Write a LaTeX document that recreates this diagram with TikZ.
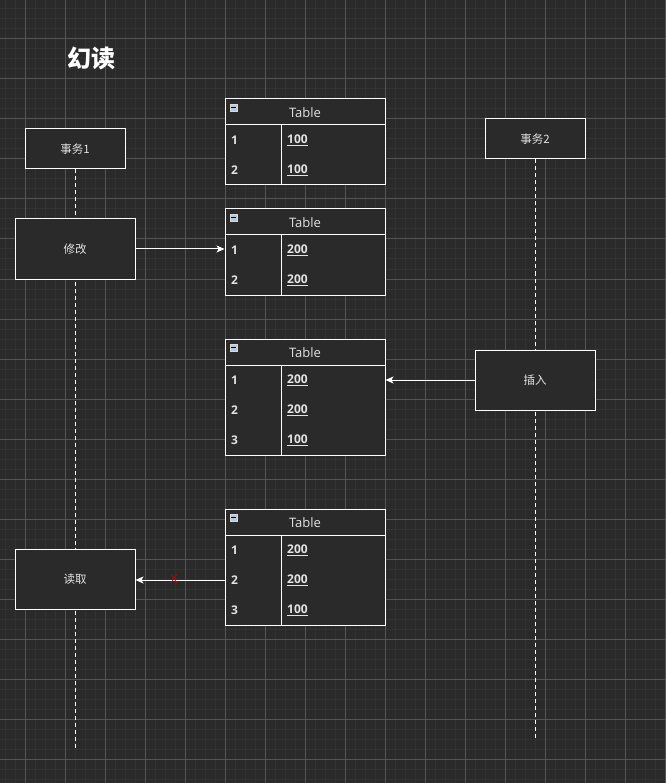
\documentclass[tikz,border=0pt]{standalone}
\usepackage{fontspec}
\setmainfont{Open Sans}
\newfontfamily\cjk{Noto Sans CJK SC}
\usetikzlibrary{arrows.meta}
\definecolor{bg}{HTML}{2A2A2A}
\definecolor{minorc}{HTML}{323232}
\definecolor{majorc}{HTML}{545454}
\definecolor{txt}{HTML}{E2E2E2}
\definecolor{iconc}{HTML}{B8C8D8}
\definecolor{xred}{HTML}{C80000}
\tikzset{
  box/.style={draw=white, fill=bg, line width=1pt, text=txt, inner sep=0pt,
    font=\cjk\fontsize{11.5}{13}\selectfont},
  tframe/.style={draw=white, fill=bg, line width=1pt, minimum width=160pt, inner sep=0pt},
  tsep/.style={draw=white, line width=1pt},
  thead/.style={text=txt, inner sep=0pt, font=\fontsize{13}{15}\selectfont},
  tkey/.style={text=txt, inner sep=0pt, anchor=west, font=\bfseries\fontsize{12}{14}\selectfont},
  tval/.style={text=txt, inner sep=0pt, anchor=west, font=\bfseries\fontsize{12}{14}\selectfont},
  ticon/.style={draw=white!70!gray, fill=iconc, minimum size=7pt, inner sep=0pt},
  life/.style={draw=white, line width=1pt, dash pattern=on 4pt off 3pt},
  arr/.style={draw=white, line width=1pt, -{Stealth[length=8pt,width=7pt,inset=2pt]}},
}
\newcommand\mytable[3]{%
  \pgfmathsetmacro\nrows{0}%
  \foreach \v [count=\i] in {#3} {\xdef\nrows{\i}}%
  \pgfmathsetmacro\th{26+30*\nrows}%
  \node[tframe, minimum height=\th pt] (#1) at (305,{#2+\th/2}) {};
  \draw[tsep] (225,#2+26) -- (385,#2+26);
  \draw[tsep] (281,#2+26) -- (281,{#2+\th});
  \node[thead] (#1h) at (305,#2+13.5) {Table};
  \node[ticon] (#1i) at (233.5,#2+8.5) {};
  \draw[black, line width=1.2pt] (231,#2+8.5) -- (236,#2+8.5);
  \foreach \v [count=\i] in {#3} {
    \node[tkey] (#1k\i) at (231,{#2+26+30*(\i-0.5)}) {\i};
    \node[tval] (#1v\i) at (287,{#2+26+30*(\i-0.5)}) {\underline{\v}};
  }
}
\begin{document}
\begin{tikzpicture}[x=1pt,y=-1pt]
\fill[bg] (0,0) rectangle (666,783);
\useasboundingbox (0,0) rectangle (666,783);
\foreach \x in {5,15,...,665} \draw[minorc, line width=1pt] (\x,0) -- (\x,783);
\foreach \y in {9,19,...,783} \draw[minorc, line width=1pt] (0,\y) -- (666,\y);
\foreach \x in {25,65,...,665} \draw[majorc, line width=1pt] (\x,0) -- (\x,783);
\foreach \y in {39,79,...,783} \draw[majorc, line width=1pt] (0,\y) -- (666,\y);

\node[text=white, inner sep=0pt, font=\cjk\bfseries\fontsize{24}{28}\selectfont] (title) at (91,58) {幻读};

\coordinate (end1) at (75,748);
\coordinate (end2) at (535,738);
\node[box, minimum width=100pt, minimum height=40pt] (p1) at (75,149) {事务1};
\node[box, minimum width=100pt, minimum height=40pt] (p2) at (535,139) {事务2};
\draw[life] (p1.south) -- (end1);
\draw[life] (p2.south) -- (end2);

\node[box, minimum width=120pt, minimum height=60pt] (mod) at (75,249) {修改};
\node[box, minimum width=120pt, minimum height=60pt] (ins) at (535,380) {插入};
\node[box, minimum width=120pt, minimum height=60pt] (read) at (75,579) {读取};

\mytable{ta}{99}{100,100}
\mytable{tb}{209}{200,200}
\mytable{tc}{339}{200,200,100}
\mytable{td}{509}{200,200,100}

\draw[arr] (mod.east) -- (mod.east -| tb.west);
\draw[arr] (ins.west) -- (ins.west -| tc.east);
\draw[arr] (tdk2 -| td.west) -- (tdk2 -| read.east);
\node[text=xred, inner sep=0pt, font=\fontsize{12}{14}\selectfont] (cross) at (174,579) {X};
\end{tikzpicture}
\end{document}
